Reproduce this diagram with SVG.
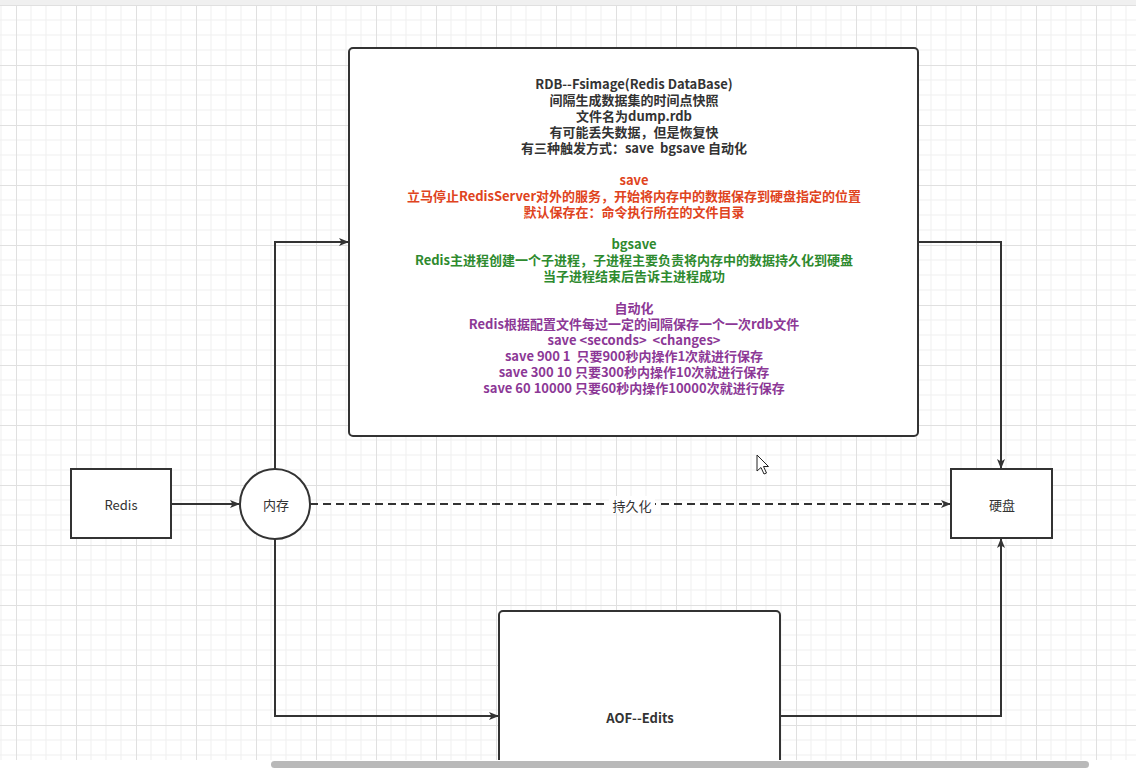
<svg xmlns="http://www.w3.org/2000/svg" width="1136" height="769" viewBox="0 0 1136 769">
<defs>
<pattern id="grid" patternUnits="userSpaceOnUse" x="16" y="5" width="60" height="60">
<path d="M15 0V60M30 0V60M45 0V60M0 15H60M0 30H60M0 45H60" stroke="#efefef" stroke-width="1" fill="none"/>
<path d="M0.5 0V60M0 0.5H60" stroke="#e0e0e0" stroke-width="1" fill="none"/>
</pattern>
<marker id="arr" viewBox="0 0 10 10" refX="9" refY="5" markerWidth="10" markerHeight="10" markerUnits="userSpaceOnUse" orient="auto">
<path d="M0 1L10 5L0 9L2.5 5Z" fill="#333"/>
</marker>
<style>
.node{fill:#fff;stroke:#333;stroke-width:2}
.edge{fill:none;stroke:#333;stroke-width:2}
.lbl{font-family:"Noto Sans CJK SC","Liberation Sans",sans-serif;font-size:13px;fill:#333;text-anchor:middle;dominant-baseline:central;white-space:pre}
.b{font-weight:bold;font-size:13px}
.red{fill:#df4320}
.grn{fill:#2e8a2e}
.pur{fill:#8c3896}
</style>
</defs>
<rect x="0" y="0" width="1136" height="769" fill="#fff"/>
<rect x="0" y="0" width="1136" height="5" fill="#f0f0f0"/>
<rect x="0" y="5" width="1136" height="755" fill="url(#grid)"/>
<g id="connectors">
<path class="edge" d="M170 504H239" marker-end="url(#arr)"/>
<path class="edge" d="M310 504H950" stroke-dasharray="8 5" marker-end="url(#arr)"/>
<rect x="609" y="496" width="46" height="17" fill="#fff"/>
<text class="lbl" x="632" y="505">持久化</text>
<path class="edge" d="M275 469V242H348" marker-end="url(#arr)"/>
<path class="edge" d="M919 242H1001V468" marker-end="url(#arr)"/>
<path class="edge" d="M275 539V716H498" marker-end="url(#arr)"/>
<path class="edge" d="M780 716H1001V539" marker-end="url(#arr)"/>
</g>
<g id="redis">
<rect class="node" x="71" y="469" width="100" height="69"/>
<text class="lbl" x="121" y="504">Redis</text>
</g>
<g id="memory">
<circle class="node" cx="275" cy="504" r="35"/>
<text class="lbl" x="276" y="504">内存</text>
</g>
<g id="disk">
<rect class="node" x="951" y="469" width="101" height="69"/>
<text class="lbl" x="1002" y="504">硬盘</text>
</g>
<g id="rdb">
<rect class="node" x="349" y="48" width="569" height="388" rx="4"/>
<text class="lbl b" x="634" y="83">RDB--Fsimage(Redis DataBase)</text>
<text class="lbl b" x="634" y="99">间隔生成数据集的时间点快照</text>
<text class="lbl b" x="634" y="115">文件名为dump.rdb</text>
<text class="lbl b" x="634" y="131">有可能丢失数据，但是恢复快</text>
<text class="lbl b" x="634" y="147" xml:space="preserve">有三种触发方式：save  bgsave 自动化</text>
<text class="lbl b red" x="634" y="179">save</text>
<text class="lbl b red" x="634" y="195">立马停止RedisServer对外的服务，开始将内存中的数据保存到硬盘指定的位置</text>
<text class="lbl b red" x="634" y="211">默认保存在：命令执行所在的文件目录</text>
<text class="lbl b grn" x="634" y="243">bgsave</text>
<text class="lbl b grn" x="634" y="259">Redis主进程创建一个子进程，子进程主要负责将内存中的数据持久化到硬盘</text>
<text class="lbl b grn" x="634" y="275">当子进程结束后告诉主进程成功</text>
<text class="lbl b pur" x="634" y="307">自动化</text>
<text class="lbl b pur" x="634" y="323">Redis根据配置文件每过一定的间隔保存一个一次rdb文件</text>
<text class="lbl b pur" x="634" y="339" xml:space="preserve">save &lt;seconds&gt;  &lt;changes&gt;</text>
<text class="lbl b pur" x="634" y="355" xml:space="preserve">save 900 1  只要900秒内操作1次就进行保存</text>
<text class="lbl b pur" x="634" y="371">save 300 10 只要300秒内操作10次就进行保存</text>
<text class="lbl b pur" x="634" y="387">save 60 10000 只要60秒内操作10000次就进行保存</text>
</g>
<g id="aof">
<rect class="node" x="499" y="611" width="281" height="170" rx="4"/>
<text class="lbl b" x="640" y="717">AOF--Edits</text>
</g>
<rect x="0" y="760" width="1136" height="9" fill="#fff"/>
<rect x="271" y="761" width="818" height="7" rx="3.5" fill="#b9b9b9"/>
<path d="M757 455V471L761 467.5L764 474L766.5 473L763.5 466.5H768.5Z" fill="#fff" stroke="#222" stroke-width="1"/>
</svg>
